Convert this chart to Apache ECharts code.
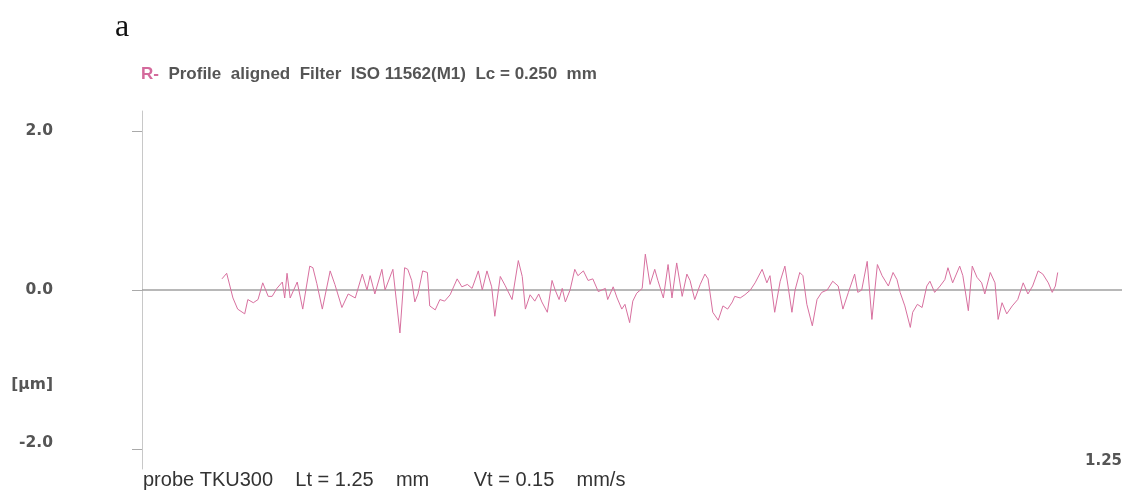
<!DOCTYPE html>
<html>
<head>
<meta charset="utf-8">
<script src="https://cdn.jsdelivr.net/npm/echarts@6/dist/echarts.min.js"></script>
<style>
html,body{margin:0;padding:0;background:#fff;}
#chart{width:1126px;height:490px;}
</style>
</head>
<body>
<div id="chart"></div>
<script>
// Profile position along the trace (mm)
const profileX = [
0.102,0.108,0.116,0.122,0.131,0.135,0.142,0.148,0.154,0.161,0.166,0.172,0.179,0.182,0.185,0.189,0.198,0.205,0.214,0.218,0.223,0.230,0.240,0.246,0.255,0.263,0.272,0.281,0.287,0.291,0.297,0.306,
0.310,0.320,0.329,0.335,0.339,0.344,0.348,0.352,0.358,0.364,0.367,0.374,0.380,0.386,0.393,0.402,0.408,0.415,0.421,0.429,0.434,0.440,0.446,0.450,0.457,0.463,0.472,0.480,0.485,0.489,0.495,0.501,0.506,0.510,0.517,0.523,
0.527,0.532,0.536,0.540,0.546,0.552,0.556,0.563,0.569,0.575,0.582,0.591,0.594,0.601,0.606,0.612,0.616,0.622,0.626,0.631,0.638,0.642,0.648,0.654,0.658,0.665,0.671,0.676,0.682,0.689,0.695,0.699,0.705,0.712,0.718,0.722,0.728,0.735,0.741,
0.747,0.753,0.756,0.763,0.769,0.776,0.782,0.791,0.797,0.801,0.807,0.814,0.820,0.824,0.829,0.833,0.839,0.843,0.848,0.855,0.861,0.867,0.874,0.881,0.888,0.894,0.901,0.909,0.913,0.918,0.925,0.931,0.938,0.944,0.952,0.958,
0.963,0.967,0.973,0.980,0.983,0.989,0.995,1.001,1.005,1.011,1.018,1.024,1.028,1.034,1.043,1.047,1.054,1.059,1.065,1.071,1.075,1.082,1.088,1.092,1.097,1.103,1.110,1.117,1.124,1.130,1.136,1.143,1.149,1.156,1.161,1.165,1.168
];
// Profile height (µm)
const profileY = [
0.14,0.21,-0.10,-0.24,-0.30,-0.12,-0.16,-0.12,0.09,-0.08,-0.08,0.02,0.10,-0.10,0.21,-0.10,0.10,-0.24,0.30,0.28,0.08,-0.24,0.24,0.07,-0.22,-0.05,-0.10,0.20,0.00,0.18,-0.05,0.26,
0.00,0.26,-0.54,0.28,0.26,0.12,-0.15,-0.05,0.24,0.22,-0.20,-0.25,-0.12,-0.14,-0.06,0.14,0.04,0.07,0.02,0.24,0.00,0.24,0.04,-0.33,0.17,0.06,-0.12,0.37,0.17,-0.24,-0.06,-0.14,-0.05,-0.15,-0.28,0.12,
0.00,-0.12,0.02,-0.15,0.00,0.26,0.18,0.24,0.12,0.14,-0.02,0.02,-0.12,0.04,-0.10,-0.24,-0.18,-0.41,-0.14,-0.04,0.02,0.45,0.07,0.26,0.12,-0.10,0.32,-0.10,0.34,-0.08,0.20,0.12,-0.12,0.07,0.20,0.14,-0.28,-0.38,-0.20,
-0.24,-0.15,-0.08,-0.10,-0.06,0.00,0.09,0.26,0.09,0.18,-0.28,0.11,0.30,0.05,-0.28,0.00,0.22,0.18,-0.18,-0.45,-0.12,-0.03,0.00,0.11,0.05,-0.24,-0.03,0.20,-0.03,0.00,0.36,-0.37,0.32,0.18,0.05,0.22,
0.13,-0.03,-0.20,-0.47,-0.28,-0.18,-0.22,0.05,0.11,-0.03,0.05,0.13,0.28,0.09,0.30,0.18,-0.26,0.30,0.16,0.09,-0.05,0.22,0.09,-0.37,-0.16,-0.30,-0.20,-0.12,0.09,-0.05,0.05,0.24,0.20,0.09,-0.03,0.05,0.22
];
// Reference (zero) line
const baselineX = [0, 1.25];
const baselineY = [0, 0];
// Axis tick labels
const yTickValues = [2, 0, -2];
const yTickLabels = ['2.0', '0.0', '-2.0'];
const yUnitLabel = '[µm]';
const xTickValues = [1.25];
const xTickLabels = ['1.25'];

const profileData = profileX.map((x, i) => [x, profileY[i]]);
const baselineData = baselineX.map((x, i) => [x, baselineY[i]]);

const labelMap = {};
yTickValues.forEach((v, i) => { labelMap[v.toFixed(2)] = yTickLabels[i]; });
const unitPos = -1.2;
const labelValues = [2, 0, unitPos, -1.92];

const chart = echarts.init(document.getElementById('chart'), null, {renderer: 'canvas'});
const FONT = "'Liberation Sans', Arial, sans-serif";
const LABEL_FONT = "'DejaVu Sans', Verdana, sans-serif";

chart.setOption({
  animation: false,
  backgroundColor: '#ffffff',
  title: [
    {
      text: 'a', left: 115, top: 12, padding: 0,
      textStyle: {fontFamily: "'Liberation Serif', 'Times New Roman', serif", fontSize: 32, fontWeight: 'normal', color: '#111'}
    },
    {
      text: '{r|R-}  Profile  aligned  Filter  ISO 11562(M1)  Lc = 0.250  mm',
      left: 141, top: 66, padding: 0,
      textStyle: {
        fontFamily: FONT, fontSize: 17, fontWeight: 'bold', color: '#555',
        rich: {r: {fontFamily: FONT, fontSize: 17, fontWeight: 'bold', color: '#d46a9c'}}
      }
    },
    {
      text: 'probe TKU300    Lt = 1.25    mm        Vt = 0.15    mm/s',
      left: 143, top: 470, padding: 0,
      textStyle: {fontFamily: FONT, fontSize: 20, fontWeight: 'normal', color: '#333'}
    }
  ],
  grid: {left: 142, right: 4, top: 111, bottom: 21, containLabel: false},
  xAxis: {
    type: 'value', min: 0, max: 1.25,
    axisLine: {show: false},
    axisTick: {show: false},
    splitLine: {show: false},
    axisLabel: {
      customValues: xTickValues, inside: true, align: 'right', margin: 0,
      formatter: (v) => xTickLabels[xTickValues.indexOf(v)] || '',
      fontFamily: LABEL_FONT, fontSize: 15, fontWeight: 'bold', color: '#555'
    }
  },
  yAxis: {
    type: 'value', min: -2.25, max: 2.25,
    axisLine: {show: true, lineStyle: {color: '#c8c8c8', width: 1}},
    axisTick: {show: true, customValues: yTickValues, length: 10, lineStyle: {color: '#aaaaaa'}},
    splitLine: {show: false},
    axisLabel: {
      customValues: labelValues, margin: 89,
      formatter: (v) => {
        if (Math.abs(v - unitPos) < 1e-6) return yUnitLabel;
        if (v < -1.5) return yTickLabels[2];
        return labelMap[v.toFixed(2)] || '';
      },
      fontFamily: LABEL_FONT, fontSize: 15.5, fontWeight: 'bold', color: '#555'
    }
  },
  series: [
    {
      type: 'line', data: baselineData, symbol: 'none', silent: true,
      lineStyle: {color: '#a0a0a0', width: 1.5}, z: 1
    },
    {
      type: 'line', data: profileData, symbol: 'none', silent: true,
      lineStyle: {color: '#d8709f', width: 1}, z: 2
    }
  ]
});
</script>
</body>
</html>
